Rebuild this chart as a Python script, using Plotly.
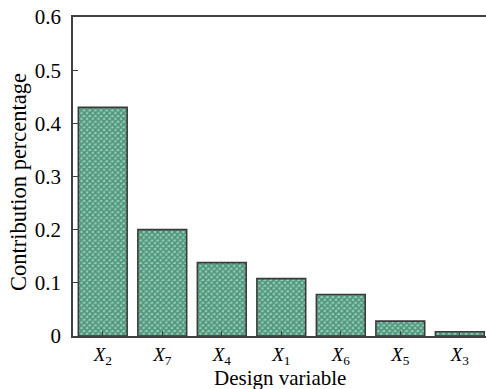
import plotly.graph_objects as go

categories = ["<i>X</i><sub>2</sub>", "<i>X</i><sub>7</sub>", "<i>X</i><sub>4</sub>", "<i>X</i><sub>1</sub>",
              "<i>X</i><sub>6</sub>", "<i>X</i><sub>5</sub>", "<i>X</i><sub>3</sub>"]
values = [0.43, 0.20, 0.138, 0.108, 0.078, 0.028, 0.008]
y_ticks = [0, 0.1, 0.2, 0.3, 0.4, 0.5, 0.6]
y_tick_labels = ["0", "0.1", "0.2", "0.3", "0.4", "0.5", "0.6"]
x_title = "Design variable"
y_title = "Contribution percentage"

font = "Liberation Serif"
W, H = 486, 389
L, T, B = 73, 17, 53
pw, ph = W - L, H - T - B
plot_left, plot_bottom = L, T + ph

fig = go.Figure(go.Bar(
    x=list(range(len(categories))),
    y=values,
    marker=dict(
        color="#7fcfb0",
        line=dict(color="#3a3a3a", width=1.6),
        pattern=dict(shape="x", size=4, solidity=0.62, fgcolor="#2c4640", bgcolor="#82d4b4", fillmode="overlay"),
    ),
    width=0.82,
    hoverinfo="skip",
))

fig.update_layout(
    width=W, height=H,
    margin=dict(l=L, r=0, t=T, b=B, autoexpand=False),
    plot_bgcolor="white", paper_bgcolor="white",
    showlegend=False,
    font=dict(family=font, size=20, color="black"),
    xaxis=dict(
        range=[-0.5, 6.44],
        tickmode="array", tickvals=list(range(len(categories))), ticktext=categories,
        ticks="inside", ticklen=5, tickcolor="#404040", tickwidth=1,
        showline=True, linecolor="#404040", linewidth=1.5, mirror=True,
        showgrid=False, zeroline=False, automargin=False,
        tickfont=dict(family=font, size=19),
        ticklabelstandoff=0,
    ),
    yaxis=dict(
        range=[0, 0.6],
        tickmode="array", tickvals=y_ticks, ticktext=y_tick_labels,
        ticks="inside", ticklen=5, tickcolor="#404040", tickwidth=1,
        showline=True, linecolor="#404040", linewidth=1.5,
        showgrid=False, zeroline=False, automargin=False,
        tickfont=dict(family=font, size=21),
        ticklabelstandoff=6,
    ),
    annotations=[
        dict(text=x_title, xref="paper", yref="paper", x=0.5, y=-(378 - plot_bottom) / ph,
             xanchor="center", yanchor="middle", showarrow=False, font=dict(family=font, size=21)),
        dict(text=y_title, xref="paper", yref="paper", x=(19 - plot_left) / pw,
             y=(plot_bottom - 182) / ph,
             xanchor="center", yanchor="middle", textangle=-90, showarrow=False,
             font=dict(family=font, size=22.5)),
    ],
)

fig.write_html("out.html", config={"displayModeBar": False},
               post_script="document.body.style.margin='0px';document.body.style.overflow='hidden';")
